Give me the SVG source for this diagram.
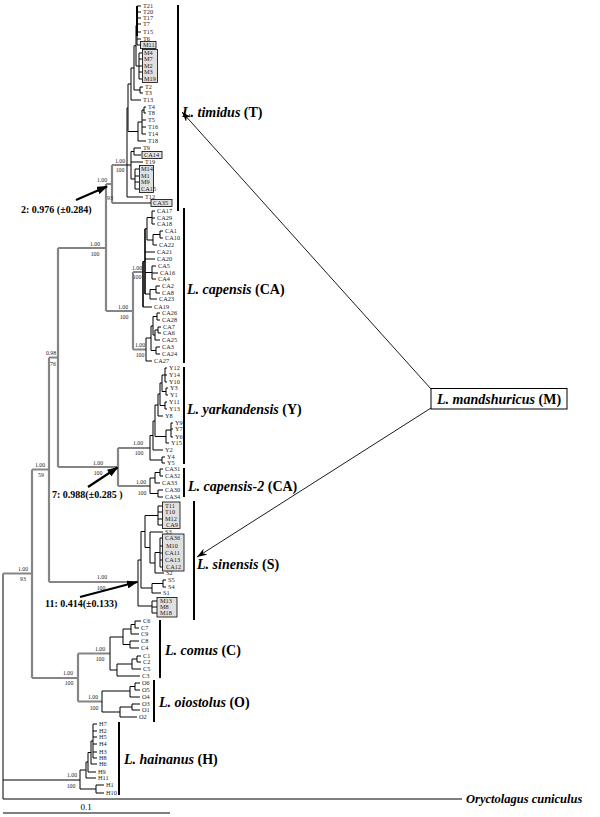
<svg xmlns="http://www.w3.org/2000/svg" width="600" height="817" viewBox="0 0 600 817">
<defs>
<style>
.br{stroke:#000;stroke-width:1;fill:none}
.gb{stroke:#858585;stroke-width:2.2;fill:none}
.tip{font-family:"Liberation Serif",serif;font-size:6.3px;fill:#222}
.sup{font-family:"Liberation Serif",serif;font-size:5.8px;fill:#222;text-anchor:middle}
.bar{stroke:#000;stroke-width:2;fill:none}
.sp{font-family:"Liberation Serif",serif;font-size:14px;font-weight:bold;fill:#000}
.bx{fill:#e0e0e0;stroke:#000;stroke-width:0.8}
.ann{font-family:"Liberation Serif",serif;font-size:10px;font-weight:bold;fill:#000}
.thk{stroke:#000;stroke-width:2.2;fill:none}
.thn{stroke:#000;stroke-width:0.9;fill:none}
</style>
<marker id="ah" markerUnits="userSpaceOnUse" markerWidth="11" markerHeight="8" refX="10" refY="4" orient="auto"><path d="M0,0 L11,4 L0,8 z" fill="#000"/></marker>
<marker id="ah2" markerUnits="userSpaceOnUse" markerWidth="10" markerHeight="7" refX="10" refY="3.5" orient="auto"><path d="M0,0 L10,3.5 L0,7 L3,3.5 z" fill="#000"/></marker>
</defs>
<rect width="600" height="817" fill="#fff"/>

<g id="connectors">
<!-- backbone -->
<path class="br" d="M3,573.5V799 M3,799H462 M3,780H80"/>
<path class="gb" d="M3,573.5H32 M32,469.5V678 M32,469.5H49 M49,357.5V582 M49,357.5H58 M58,248V467 M58,248H106 M58,467H118 M49,582H138 M32,678H78 M78,653.5V701.5 M78,653.5H110 M78,701.5H102"/>
<!-- T + CA -->
<path class="gb" d="M106,184V311 M106,184H112 M112,165V203 M112,165H127 M112,203H151 M106,311H133 M133,272V349.5 M133,272H143 M133,349.5H146"/>
<path class="br" style="stroke-width:2" d="M137,6V36"/>
<path class="br" d="M137,6V45 M137,6H141 M137,12H141 M137,18H141 M137,24H141 M137,32H141 M137,39H141 M137,45H141
M139,53V79 M139,53H142 M139,59H142 M139,66H142 M139,72H142 M139,79H142
M136,25.5V66 M136,25.5H137 M136,66H139
M140,87V93 M140,87H143 M140,93H143
M134,45.75V90 M134,45.75H136 M134,90H140
M131,68V100 M131,68H134 M131,100H141
M144,107V113 M144,107H146 M144,113H146
M142,110V134 M142,110H144 M142,120H146 M142,127H146 M142,134H146
M138,122V141 M138,122H142 M138,141H146
M128,84V131.5 M128,84H131 M128,131.5H138
M134,148V155 M134,148H141 M134,155H141
M135,169V189 M135,169H139 M135,176H139 M135,182H139 M135,189H139
M131,151.5V179 M131,151.5H134 M131,162H143 M131,179H135
M127,108V197 M127,108H128 M127,165H131 M127,197H143"/>
<!-- CA upper -->
<path class="br" style="stroke-width:1.6" d="M143,261.5V307 M145,228.75V294"/>
<path class="br" d="M143,261.5H145 M143,307H152
M145,228.75H147 M147,217.5V240 M147,217.5H152 M152,211V224 M152,211H155 M152,218H155 M152,224H155
M147,240H153 M153,234.5V245 M153,234.5H160 M160,231V238 M160,231H163 M160,238H163 M153,245H157
M145,252H155 M145,259H155
M145,272.5H152 M152,266V279 M152,266H156 M152,273H158 M152,279H156
M145,294H150 M150,289.5V299 M150,289.5H156 M156,286V293 M156,286H160 M156,293H160 M150,299H157"/>
<!-- CA lower -->
<path class="br" d="M146,338V361 M146,338H151 M151,326V350.5 M151,326H153 M153,316.5V335 M153,316.5H157 M157,313V320 M157,313H160 M157,320H160
M153,335H155 M155,330V340 M155,330H158 M158,327V333 M158,327H161 M158,333H161 M155,340H160
M151,350.5H156 M156,347V354 M156,347H160 M156,354H160 M146,361H152"/>
<!-- Y + CA2 -->
<path class="gb" d="M118,448V486 M118,448H150 M118,486H150"/>
<path class="br" d="M150,435.5V460 M150,435.5H153 M153,421V450 M153,421H155 M153,450H163
M155,405V436.5 M155,405H158 M155,436.5H166 M158,394V416 M158,394H160 M158,416H163
M160,383V405.5 M160,383H162 M160,405.5H165 M162,375V391.5 M162,375H165 M162,391.5H166
M165,368V382 M165,368H167 M165,375H167 M165,382H167 M166,388V395 M166,388H168 M166,395H168
M165,402V409 M165,402H167 M165,409H167 M166,430V443 M166,430H171 M166,443H169
M171,423V437 M171,423H173 M171,429H173 M171,437H173
M150,460H162 M162,457V463 M162,457H165 M162,463H165
M150,478V493.5 M150,478H155 M155,472.5V483 M155,472.5H160 M160,469V476 M160,469H163 M160,476H163 M155,483H160
M150,493.5H158 M158,490V497 M158,490H163 M158,497H163"/>
<!-- S -->
<path class="br" d="M138,560V606 M138,560H141 M141,531.5V588 M141,531.5H145 M145,515.5V547.5 M145,515.5H158
M158,506V525 M158,506H162.5 M158,512H162.5 M158,519H162.5 M158,525H162.5
M145,547.5H150 M150,532V563 M150,532H163 M150,563H155 M155,552.5V573 M155,573H164 M155,552.5H160
M160,538V567 M160,538H162.5 M160,546H162.5 M160,553H162.5 M160,560H162.5 M160,567H162.5
M141,588H152 M152,583.5V593 M152,583.5H163 M163,580V587 M163,580H166 M163,587H166 M152,593H161
M138,606H152 M152,601V613 M152,601H157 M152,607H157 M152,613H157"/>
<!-- C -->
<path class="br" d="M110,637V670 M110,637H123 M123,629V644.5 M123,629H131 M131,624.5V634 M131,624.5H135 M135,621V628 M135,621H141 M135,628H139 M131,634H139
M123,644.5H130 M130,641V648 M130,641H139 M130,648H139
M110,670H117 M117,664V676 M117,664H132 M132,659V669 M132,659H137 M137,656V662 M137,656H141 M137,662H141 M132,669H141 M117,676H140"/>
<!-- O -->
<path class="br" d="M102,691V712 M102,691H130 M130,686.5V697 M130,686.5H135 M135,683V690 M135,683H140 M135,690H140 M130,697H140
M102,712H120 M120,707V717 M120,707H132 M132,704V710 M132,704H140 M132,710H140 M120,717H137"/>
<!-- H -->
<path class="br" d="M80,770V789 M80,770H86 M86,762V778 M86,778H96 M86,762H88 M88,752.5V772 M88,772H96 M88,752.5H91 M91,741V764 M91,764H97 M91,741H93
M93,724V758 M93,724H97 M93,731H97 M93,737H97 M93,744H97 M93,752H97 M93,758H97
M80,789H96 M96,785V793 M96,785H104 M96,793H104"/>
<!-- annotation arrows -->
<path class="thk" marker-end="url(#ah)" d="M76,200 L107,186.5"/>
<path class="thk" marker-end="url(#ah)" d="M88,487 L117.5,467.5"/>
<path class="thk" marker-end="url(#ah)" d="M80,597 L137,582"/>
<path class="thn" marker-end="url(#ah2)" d="M431,389 L182,112"/>
<path class="thn" marker-end="url(#ah2)" d="M431,408 L197,557"/>
<!-- scale bar -->
<path class="br" d="M3,813H170"/>
</g>

<g id="support">
<text class="sup" x="23" y="571">1.00</text><text class="sup" x="23" y="581">93</text>
<text class="sup" x="40" y="466.5">1.00</text><text class="sup" x="41" y="477">59</text>
<text class="sup" x="51" y="355">0.98</text><text class="sup" x="53" y="366">76</text>
<text class="sup" x="95" y="245.5">1.00</text><text class="sup" x="95" y="256">100</text>
<text class="sup" x="98" y="464.5">1.00</text><text class="sup" x="98" y="475">100</text>
<text class="sup" x="102" y="579">1.00</text><text class="sup" x="101" y="590">100</text>
<text class="sup" x="68" y="675">1.00</text><text class="sup" x="69" y="685">100</text>
<text class="sup" x="100" y="650.5">1.00</text><text class="sup" x="100" y="661">100</text>
<text class="sup" x="93" y="699">1.00</text><text class="sup" x="94" y="710">100</text>
<text class="sup" x="72" y="777">1.00</text><text class="sup" x="71" y="788">100</text>
<text class="sup" x="138" y="445">1.00</text><text class="sup" x="139" y="455">100</text>
<text class="sup" x="141" y="484">1.00</text><text class="sup" x="142" y="495">100</text>
<text class="sup" x="123" y="309">1.00</text><text class="sup" x="124" y="319">100</text>
<text class="sup" x="137" y="270">1.00</text><text class="sup" x="137" y="279">100</text>
<text class="sup" x="140" y="347">1.00</text><text class="sup" x="140" y="357">100</text>
<text class="sup" x="120" y="163">1.00</text><text class="sup" x="120" y="172">100</text>
<text class="sup" x="102" y="182">1.00</text><text class="sup" x="110" y="200">93</text>
</g>

<g id="boxes">
<rect class="bx" x="140.5" y="41.5" width="15.5" height="7"/>
<rect class="bx" x="142.5" y="49.5" width="15" height="33"/>
<rect class="bx" x="142" y="151.5" width="20" height="7"/>
<rect class="bx" x="139.5" y="165.5" width="14" height="27"/>
<rect class="bx" x="151" y="199.5" width="21" height="7"/>
<rect class="bx" x="162.5" y="502" width="17.5" height="26.5"/>
<rect class="bx" x="162.5" y="534" width="21.5" height="37"/>
<rect class="bx" x="157" y="597.5" width="20" height="19.5"/>
</g>

<g id="tips" class="tip">
<text x="143" y="8.2">T21</text><text x="143" y="14.2">T20</text><text x="143" y="20.2">T17</text><text x="143" y="26.2">T7</text><text x="143" y="34.2">T15</text><text x="143" y="41.2">T6</text><text x="143" y="47.2">M11</text>
<text x="144" y="55.2">M4</text><text x="144" y="61.2">M7</text><text x="144" y="68.2">M2</text><text x="144" y="74.2">M3</text><text x="144" y="81.2">M19</text>
<text x="145" y="89.2">T2</text><text x="145" y="95.2">T3</text><text x="143" y="102.2">T13</text>
<text x="148" y="109.2">T4</text><text x="148" y="115.2">T8</text><text x="148" y="122.2">T5</text><text x="148" y="129.2">T16</text><text x="148" y="136.2">T14</text><text x="148" y="143.2">T18</text>
<text x="143" y="150.2">T9</text><text x="144" y="157.2">CA14</text><text x="145" y="164.2">T19</text>
<text x="141" y="171.2">M14</text><text x="141" y="178.2">M1</text><text x="141" y="184.2">M9</text><text x="141" y="191.2">CA15</text>
<text x="145" y="199.2">T12</text><text x="153" y="205.2">CA35</text>
<text x="157" y="213.2">CA17</text><text x="157" y="220.2">CA29</text><text x="157" y="226.2">CA18</text><text x="165" y="233.2">CA1</text><text x="165" y="240.2">CA10</text><text x="159" y="247.2">CA22</text>
<text x="157" y="254.2">CA21</text><text x="157" y="261.2">CA20</text><text x="158" y="268.2">CA5</text><text x="160" y="275.2">CA16</text><text x="158" y="281.2">CA4</text>
<text x="162" y="288.2">CA2</text><text x="162" y="295.2">CA8</text><text x="159" y="301.2">CA23</text><text x="154" y="309.2">CA19</text>
<text x="162" y="315.2">CA26</text><text x="162" y="322.2">CA28</text><text x="163" y="329.2">CA7</text><text x="163" y="335.2">CA6</text><text x="162" y="342.2">CA25</text><text x="162" y="349.2">CA3</text><text x="162" y="356.2">CA24</text><text x="154" y="363.2">CA27</text>
<text x="169" y="370.2">Y12</text><text x="169" y="377.2">Y14</text><text x="169" y="384.2">Y10</text><text x="170" y="390.2">Y3</text><text x="170" y="397.2">Y1</text><text x="169" y="404.2">Y11</text><text x="169" y="411.2">Y13</text><text x="165" y="418.2">Y8</text>
<text x="175" y="425.2">Y9</text><text x="175" y="431.2">Y7</text><text x="175" y="439.2">Y6</text><text x="171" y="445.2">Y15</text><text x="165" y="452.2">Y2</text><text x="167" y="459.2">Y4</text><text x="167" y="465.2">Y5</text>
<text x="165" y="471.2">CA31</text><text x="165" y="478.2">CA32</text><text x="162" y="485.2">CA33</text><text x="165" y="492.2">CA30</text><text x="165" y="499.2">CA34</text>
<text x="165" y="508.2">T11</text><text x="165" y="514.2">T10</text><text x="165" y="521.2">M12</text><text x="166" y="527.2">CA9</text><text x="165" y="534">S3</text>
<text x="165" y="540.2">CA36</text><text x="166" y="548.2">M10</text><text x="165" y="555.2">CA11</text><text x="165" y="562.2">CA13</text><text x="166" y="569.2">CA12</text><text x="166" y="575.2">S2</text>
<text x="168" y="582.2">S5</text><text x="168" y="589.2">S4</text><text x="163" y="595.2">S1</text>
<text x="160" y="603.2">M13</text><text x="160" y="609.2">M8</text><text x="160" y="615.2">M18</text>
<text x="143" y="623.2">C6</text><text x="141" y="630.2">C7</text><text x="141" y="636.2">C9</text><text x="141" y="643.2">C8</text><text x="141" y="650.2">C4</text>
<text x="143" y="658.2">C1</text><text x="143" y="664.2">C2</text><text x="143" y="671.2">C5</text><text x="142" y="678.2">C3</text>
<text x="142" y="685.2">O6</text><text x="142" y="692.2">O5</text><text x="142" y="699.2">O4</text><text x="142" y="706.2">O3</text><text x="142" y="712.2">O1</text><text x="139" y="719.2">O2</text>
<text x="99" y="726.2">H7</text><text x="99" y="733.2">H2</text><text x="99" y="739.2">H5</text><text x="99" y="746.2">H4</text><text x="99" y="754.2">H3</text><text x="99" y="760.2">H8</text><text x="99" y="766.2">H6</text><text x="98" y="774.2">H9</text><text x="98" y="780.2">H11</text>
<text x="106" y="787.2">H1</text><text x="106" y="795.2">H10</text>
</g>

<g id="taxon-timidus"><path class="bar" d="M178,5V211"/><text class="sp" x="182" y="117"><tspan font-style="italic">L. timidus</tspan> (T)</text></g>
<g id="taxon-capensis"><path class="bar" d="M184,208V363"/><text class="sp" x="187" y="294"><tspan font-style="italic">L. capensis</tspan> (CA)</text></g>
<g id="taxon-yarkandensis"><path class="bar" d="M184,367V464"/><text class="sp" x="187" y="414"><tspan font-style="italic">L. yarkandensis</tspan> (Y)</text></g>
<g id="taxon-capensis2"><path class="bar" d="M184,468V497"/><text class="sp" x="188" y="491"><tspan font-style="italic">L. capensis-2</tspan> (CA)</text></g>
<g id="taxon-sinensis"><path class="bar" d="M194,501V620"/><text class="sp" x="197" y="569"><tspan font-style="italic">L. sinensis</tspan> (S)</text></g>
<g id="taxon-comus"><path class="bar" d="M160,620V678"/><text class="sp" x="165" y="655"><tspan font-style="italic">L. comus</tspan> (C)</text></g>
<g id="taxon-oiostolus"><path class="bar" d="M154,680V722"/><text class="sp" x="159" y="707"><tspan font-style="italic">L. oiostolus</tspan> (O)</text></g>
<g id="taxon-hainanus"><path class="bar" d="M119,722V795"/><text class="sp" x="124" y="764"><tspan font-style="italic">L. hainanus</tspan> (H)</text></g>
<g id="taxon-mandshuricus"><rect x="431" y="388.5" width="136" height="20.5" fill="#fff" stroke="#000" stroke-width="1"/><text class="sp" x="437" y="403.5"><tspan font-style="italic">L. mandshuricus</tspan> (M)</text></g>
<g id="outgroup"><text x="466" y="803" font-family="Liberation Serif, serif" font-size="12.5" font-style="italic" font-weight="bold">Oryctolagus cuniculus</text></g>
<g id="annotations">
<text class="ann" x="21" y="213">2: 0.976 (±0.284)</text>
<text class="ann" x="52" y="498">7: 0.988(±0.285 )</text>
<text class="ann" x="45" y="607">11: 0.414(±0.133)</text>
<text x="86" y="810" font-family="Liberation Serif, serif" font-size="9" text-anchor="middle">0.1</text>
</g>
</svg>
